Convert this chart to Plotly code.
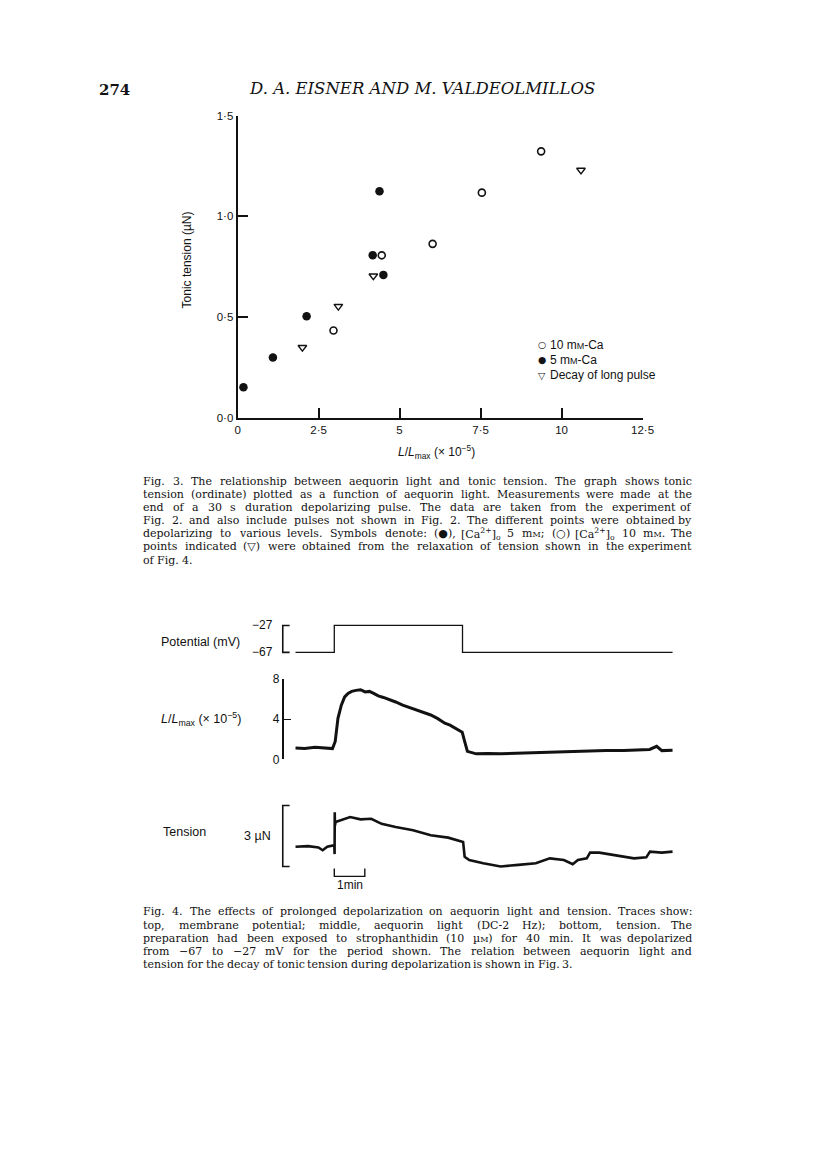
import re
import plotly.graph_objects as go

W, H = 816, 1158
INK = "#121212"
SANS = "Liberation Sans, Arial, sans-serif"
SERIF = "DejaVu Serif, serif"

# ---------------- Fig. 3 data (L/Lmax x1e-5, tonic tension uN) ----------------
CA10_X = [2.96, 4.45, 6.02, 7.54, 9.37]
CA10_Y = [0.434, 0.807, 0.864, 1.118, 1.323]
CA5_X = [0.18, 1.09, 2.13, 4.17, 4.50, 4.38]
CA5_Y = [0.152, 0.30, 0.505, 0.808, 0.71, 1.125]
DECAY_X = [2.00, 3.11, 4.19, 10.60]
DECAY_Y = [0.35, 0.554, 0.705, 1.23]

X_TICKS = [0, 2.5, 5, 7.5, 10, 12.5]
X_TICK_TEXT = ["0", "2·5", "5", "7·5", "10", "12·5"]
Y_TICKS = [0, 0.5, 1.0, 1.5]
Y_TICK_TEXT = ["0·0", "0·5", "1·0", "1·5"]

# ---------------- Fig. 4 data (time in min) ----------------
POT_T = [0.0, 1.27, 1.27, 5.47, 5.47, 12.35]
POT_MV = [-67, -67, -27, -27, -67, -67]
POT_TICKS = [-67, -27]
POT_TICK_TEXT = ["−67", "−27"]

LIGHT_T = [0.00, 0.30, 0.64, 0.90, 1.21, 1.30, 1.39, 1.50, 1.61, 1.72, 1.84, 1.98,
           2.13, 2.28, 2.42, 2.56, 2.71, 2.88, 3.05, 3.28, 3.51, 3.74, 3.97, 4.20,
           4.43, 4.66, 4.89, 5.06, 5.23, 5.36, 5.46, 5.54, 5.63, 5.92, 6.30, 6.72,
           7.30, 7.87, 8.45, 9.02, 9.60, 10.17, 10.75, 11.32, 11.60, 11.83, 12.00, 12.35]
LIGHT_V = [1.14, 1.10, 1.21, 1.12, 1.08, 1.79, 4.08, 5.38, 6.20, 6.55, 6.75, 6.85,
           6.92, 6.70, 6.75, 6.55, 6.30, 6.15, 5.98, 5.70, 5.38, 5.15, 4.90, 4.70,
           4.41, 4.05, 3.59, 3.40, 3.10, 2.95, 2.71, 1.79, 0.81, 0.56, 0.60, 0.56,
           0.62, 0.69, 0.72, 0.75, 0.80, 0.88, 0.90, 0.98, 1.00, 1.31, 0.88, 0.92]
LIGHT_TICKS = [0, 4, 8]

TENS_T = [0.00, 0.41, 0.75, 0.89, 1.04, 1.23, 1.27, 1.28, 1.285, 1.29, 1.31, 1.44,
          1.79, 2.13, 2.48, 2.82, 3.28, 3.85, 4.43, 5.00, 5.35, 5.49, 5.54, 5.69,
          6.15, 6.72, 7.30, 7.87, 8.33, 8.79, 9.08, 9.25, 9.54, 9.65, 9.95, 10.40,
          11.09, 11.49, 11.61, 12.00, 12.35]
TENS_V = [0.97, 1.00, 0.94, 0.80, 0.97, 1.05, 1.05, 0.61, 2.67, 2.00, 2.19, 2.26,
          2.43, 2.32, 2.35, 2.10, 1.94, 1.78, 1.54, 1.42, 1.29, 1.21, 0.48, 0.32,
          0.16, 0.00, 0.08, 0.16, 0.40, 0.32, 0.11, 0.32, 0.40, 0.68, 0.68, 0.56,
          0.40, 0.45, 0.73, 0.68, 0.73]
TENS_BAR = [0, 3]          # 3 uN calibration
TIME_BAR = [1.27, 2.27]    # 1 min calibration

SM = "<span style='font-size:8px'>M</span>"
CAP3 = [
    "Fig. 3. The relationship between aequorin light and tonic tension. The graph shows tonic",
    "tension (ordinate) plotted as a function of aequorin light. Measurements were made at the",
    "end of a 30 s duration depolarizing pulse. The data are taken from the experiment of",
    "Fig. 2. and also include pulses not shown in Fig. 2. The different points were obtained by",
    "depolarizing to various levels. Symbols denote: (●), [Ca<sup>2+</sup>]<sub>o</sub> 5 m" + SM
    + "; (○) [Ca<sup>2+</sup>]<sub>o</sub> 10 m" + SM + ". The",
    "points indicated (▽) were obtained from the relaxation of tension shown in the experiment",
    "of Fig. 4.",
]
CAP4 = [
    "Fig. 4. The effects of prolonged depolarization on aequorin light and tension. Traces show:",
    "top, membrane potential; middle, aequorin light (DC-2 Hz); bottom, tension. The",
    "preparation had been exposed to strophanthidin (10 µ" + SM + ") for 40 min. It was depolarized",
    "from −67 to −27 mV for the period shown. The relation between aequorin light and",
    "tension for the decay of tonic tension during depolarization is shown in Fig. 3.",
]


def fx(px):
    return px / W


def fy(py):
    return 1 - py / H


fig = go.Figure()

# Fig. 3 scatter
fig.add_trace(go.Scatter(x=CA10_X, y=CA10_Y, mode="markers", name="10 mM-Ca",
                         marker=dict(symbol="circle-open", size=7, color=INK, line=dict(width=1.6, color=INK)),
                         xaxis="x", yaxis="y", cliponaxis=False))
fig.add_trace(go.Scatter(x=CA5_X, y=CA5_Y, mode="markers", name="5 mM-Ca",
                         marker=dict(symbol="circle", size=8.5, color=INK),
                         xaxis="x", yaxis="y", cliponaxis=False))
fig.add_trace(go.Scatter(x=DECAY_X, y=DECAY_Y, mode="markers", name="Decay of long pulse",
                         marker=dict(symbol="triangle-down-open", size=7.5, color=INK, line=dict(width=1.4, color=INK)),
                         xaxis="x", yaxis="y", cliponaxis=False))

# Fig. 4 traces
fig.add_trace(go.Scatter(x=POT_T, y=POT_MV, mode="lines", line=dict(color=INK, width=1.3),
                         xaxis="x2", yaxis="y3", name="Potential"))
fig.add_trace(go.Scatter(x=LIGHT_T, y=LIGHT_V, mode="lines", line=dict(color=INK, width=3.0),
                         xaxis="x2", yaxis="y4", name="L/Lmax"))
fig.add_trace(go.Scatter(x=TENS_T, y=TENS_V, mode="lines", line=dict(color=INK, width=2.6),
                         xaxis="x2", yaxis="y5", name="Tension"))

axfont = dict(family=SANS, size=11.5, color=INK)

# pixel anchors
SC_L, SC_R, SC_B, SC_T = 239, 651.5, 416, 110
T_PX0, T_PPM = 298.0, 31.1         # time axis: px at t=0, px per min
POT_PX = (653.3, 626.0)           # px for -67, -27
LIGHT_PX = (761.7, 680.0)         # px for 0, 8
TENS_PX = (870.0, 808.3)          # px for 0, 3
BRK_X = 285

t_rng = [-0.5, 12.5]
pot_rng = [-75, -20]
pot_k = (POT_PX[0] - POT_PX[1]) / 40.0
tens_rng = [-0.5, 3.2]
tens_k = (TENS_PX[0] - TENS_PX[1]) / 3.0

fig.update_layout(
    width=W, height=H, margin=dict(l=0, r=0, t=0, b=0),
    paper_bgcolor="white", plot_bgcolor="rgba(0,0,0,0)",
    showlegend=False,
    xaxis=dict(domain=[fx(SC_L), fx(SC_R)], range=[0, 12.5], anchor="y",
               showline=True, linewidth=2, linecolor=INK, ticks="inside", ticklen=10, tickwidth=1.6,
               tickcolor=INK, tickvals=X_TICKS, ticktext=X_TICK_TEXT, tickfont=axfont,
               showgrid=False, zeroline=False, fixedrange=True),
    yaxis=dict(domain=[fy(SC_B), fy(SC_T)], range=[0, 1.5], anchor="x",
               showline=True, linewidth=2, linecolor=INK, ticks="inside", ticklen=10, tickwidth=1.6,
               tickcolor=INK, tickvals=Y_TICKS, ticktext=Y_TICK_TEXT, tickfont=axfont,
               showgrid=False, zeroline=False, fixedrange=True),
    xaxis2=dict(domain=[fx(T_PX0 + T_PPM * t_rng[0]), fx(T_PX0 + T_PPM * t_rng[1])], range=t_rng,
                anchor="y3", visible=False, fixedrange=True),
    yaxis3=dict(domain=[fy(POT_PX[0] + (-67 - pot_rng[0]) * pot_k), fy(POT_PX[1] - (pot_rng[1] + 27) * pot_k)],
                range=pot_rng, anchor="x2", visible=False, fixedrange=True),
    yaxis4=dict(domain=[fy(LIGHT_PX[0]), fy(LIGHT_PX[1])], range=[0, 8], anchor="free", position=fx(BRK_X),
                showline=True, linewidth=1.6, linecolor=INK, ticks="inside", ticklen=7, tickwidth=1.4,
                tickcolor=INK, tickvals=LIGHT_TICKS, tickfont=dict(family=SANS, size=12, color=INK),
                showgrid=False, zeroline=False, fixedrange=True),
    yaxis5=dict(domain=[fy(TENS_PX[0] - tens_rng[0] * tens_k), fy(TENS_PX[1] - (tens_rng[1] - 3) * tens_k)],
                range=tens_rng, anchor="x2", visible=False, fixedrange=True),
)

# calibration brackets
xb, xc = fx(BRK_X), fx(BRK_X + 7)
fig.add_shape(type="path", xref="paper", yref="y3", line=dict(color=INK, width=1.6),
              path=f"M {xc},{POT_TICKS[1]} L {xb},{POT_TICKS[1]} L {xb},{POT_TICKS[0]} L {xc},{POT_TICKS[0]}")
fig.add_shape(type="path", xref="paper", yref="y5", line=dict(color=INK, width=1.6),
              path=f"M {xc},{TENS_BAR[1]} L {xb},{TENS_BAR[1]} L {xb},{TENS_BAR[0]} L {xc},{TENS_BAR[0]}")
ytb, ybb = fy(872), fy(880)
fig.add_shape(type="path", xref="x2", yref="paper", line=dict(color=INK, width=1.4),
              path=f"M {TIME_BAR[0]},{ytb} L {TIME_BAR[0]},{ybb} L {TIME_BAR[1]},{ybb} L {TIME_BAR[1]},{ytb}")

ann = []


def A(text, x, y, size=11.5, family=SANS, xanchor="left", yanchor="middle", xref="paper", yref="paper", **kw):
    ann.append(dict(text=text, x=x, y=y, xref=xref, yref=yref, xanchor=xanchor, yanchor=yanchor,
                    showarrow=False, font=dict(family=family, size=size, color=INK), borderpad=0, **kw))


# header
A("<b>274</b>", fx(97), fy(84), size=15, family=SERIF)
A("<i>D. A. EISNER AND M. VALDEOLMILLOS</i>", fx(427), fy(83), size=16.5, family=SERIF, xanchor="center")

# axis titles
A("Tonic tension (µN)", fx(187), fy(256), size=12, xanchor="center", textangle=-90)
A("<i>L</i>/<i>L</i><sub>max</sub> (× 10<sup>−5</sup>)", fx(442), fy(450), size=12, xanchor="center")

# legend
LEG = [("○", "10 m<span style='font-size:9px'>M</span>-Ca", 341.7),
       ("●", "5 m<span style='font-size:9px'>M</span>-Ca", 357.2),
       ("▽", "Decay of long pulse", 372.7)]
for sym, lab, yy in LEG:
    A(sym, fx(549.5), fy(yy), size=9.5, family="DejaVu Sans", xanchor="center")
    A(lab, fx(556), fy(yy), size=12)

# Fig 4 labels
A("Potential (mV)", fx(160), fy(643), size=12.5)
for v, t in zip(POT_TICKS, POT_TICK_TEXT):
    A(t, fx(276), v, xanchor="right", yref="y3", size=12)
A("<i>L</i>/<i>L</i><sub>max</sub> (× 10<sup>−5</sup>)", fx(160), fy(721), size=12.5)
A("Tension", fx(162), fy(835), size=12.5)
A("3 µN", fx(274), (TENS_BAR[0] + TENS_BAR[1]) / 2, xanchor="right", yref="y5", size=12.5)
A("1min", (TIME_BAR[0] + TIME_BAR[1]) / 2, fy(889), xanchor="center", xref="x2", size=12)

# -------- justified captions --------
EM = {' ': .318, 'a': .596, 'b': .641, 'c': .560, 'd': .641, 'e': .592, 'f': .370, 'g': .641, 'h': .645,
      'i': .320, 'j': .306, 'k': .612, 'l': .320, 'm': .969, 'n': .645, 'o': .602, 'p': .641, 'q': .641,
      'r': .478, 's': .513, 't': .402, 'u': .645, 'v': .582, 'w': .839, 'x': .582, 'y': .582, 'z': .522,
      'A': .722, 'B': .734, 'C': .716, 'D': .790, 'E': .710, 'F': .679, 'G': .784, 'H': .862, 'I': .400,
      'J': .400, 'K': .763, 'L': .667, 'M': 1.0, 'N': .829, 'O': .802, 'P': .682, 'Q': .802, 'R': .744,
      'S': .685, 'T': .667, 'U': .814, 'V': .722, 'W': 1.048, 'X': .722, 'Y': .667, 'Z': .684,
      '.': .318, ',': .318, ';': .337, ':': .337, '(': .390, ')': .390, '[': .390, ']': .390,
      '-': .338, '−': .838, '+': .838, '●': .60, '○': .60, '▽': .77, 'µ': .65}


def word_w(word, size):
    total, scale = 0.0, 1.0
    for tok in re.split(r'(<[^>]+>)', word):
        if tok.startswith('<'):
            if tok.startswith('</'):
                scale = 1.0
            elif tok.startswith('<sup') or tok.startswith('<sub'):
                scale = 0.7
            elif tok.startswith('<span'):
                scale = 0.75
            continue
        total += sum(EM.get(c, 0.62) for c in tok) * size * scale
    return total


def justified(lines, top, step, left, right, size):
    for i, line in enumerate(lines):
        words = re.findall(r'(?:<[^>]*>|[^ <])+', line)
        ws = [word_w(w, size) for w in words]
        y = top + i * step
        last = (i == len(lines) - 1)
        gap = EM[' '] * size if last else (right - left - sum(ws)) / (len(words) - 1)
        x = left
        for j, (w, wd) in enumerate(zip(words, ws)):
            if (not last) and j == len(words) - 1:
                A(w, fx(right), fy(y), size=size, family=SERIF, xanchor="right")
            else:
                A(w, fx(x), fy(y), size=size, family=SERIF)
            x += wd + gap


justified(CAP3, 480, 13.3, 142, 703, 11)
justified(CAP4, 916, 13.4, 142, 703, 11)

fig.update_layout(annotations=ann)

fig.write_html("out.html", config={"displayModeBar": False},
               post_script="document.body.style.margin='0';")
